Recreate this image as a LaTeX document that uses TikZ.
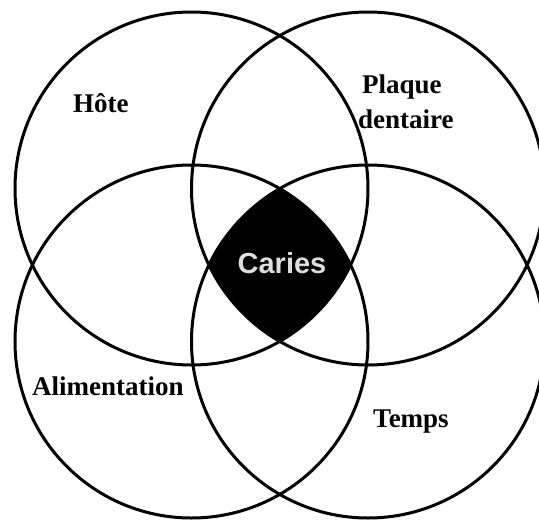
\documentclass[tikz,border=0pt]{standalone}
\usepackage{fontspec}
\setmainfont{Liberation Serif}
\newfontfamily\cariesfont{Liberation Sans}
\definecolor{cariesgray}{HTML}{DEDEDE}
\begin{document}
\begin{tikzpicture}[x=1pt,y=-1pt,
  ring/.style={draw=black,line width=3pt},
  lbl/.style={inner sep=0pt,anchor=base west,font=\bfseries\fontsize{27}{27}\selectfont},
  core/.style={inner sep=0pt,anchor=base,text=cariesgray,font=\cariesfont\bfseries\fontsize{29}{29}\selectfont}]
\useasboundingbox (0,0) rectangle (539,523);
\fill[white] (0,0) rectangle (539,523);
\coordinate (hote) at (191.5,188.5);
\coordinate (plaque) at (368,188.5);
\coordinate (alim) at (191.5,341.5);
\coordinate (temps) at (368,341.5);
\begin{scope}
  \clip (hote) circle[radius=176.5pt];
  \clip (plaque) circle[radius=176.5pt];
  \clip (alim) circle[radius=176.5pt];
  \clip (temps) circle[radius=176.5pt];
  \fill[black] (0,0) rectangle (539,523);
\end{scope}
\draw[ring] (hote) circle[radius=176.5pt];
\draw[ring] (plaque) circle[radius=176.5pt];
\draw[ring] (alim) circle[radius=176.5pt];
\draw[ring] (temps) circle[radius=176.5pt];
\node[lbl] (thote) at (73,112) {Hôte};
\node[lbl] (tplaque) at (362,93) {Plaque};
\node[lbl] (tdentaire) at (358,128) {dentaire};
\node[lbl] (talim) at (32,395) {Alimentation};
\node[lbl] (ttemps) at (373,427) {Temps};
\node[core] (caries) at (282,273) {Caries};
\end{tikzpicture}
\end{document}
